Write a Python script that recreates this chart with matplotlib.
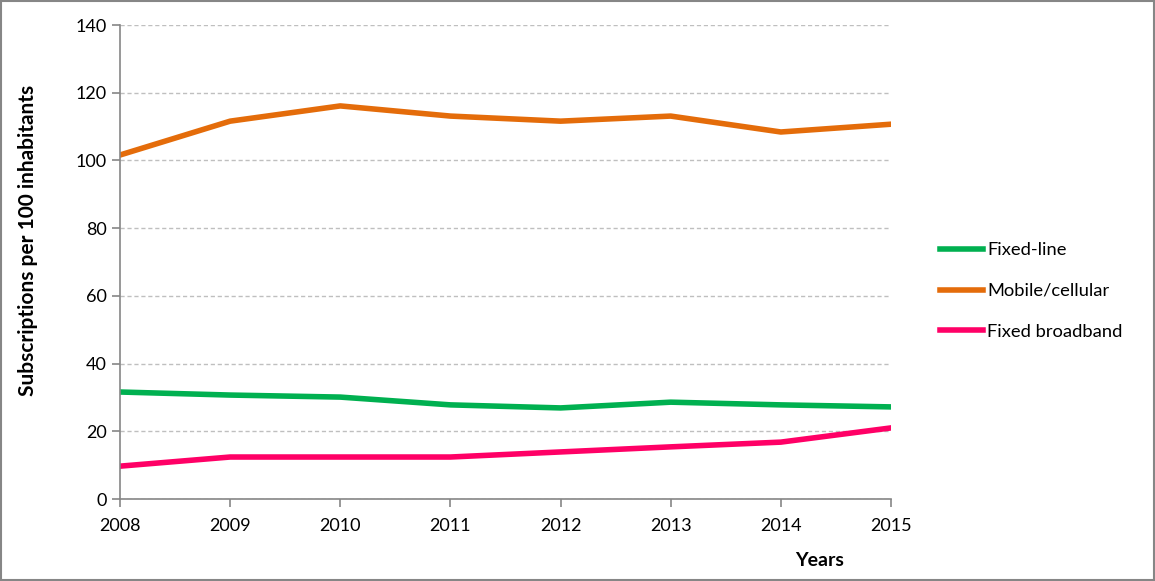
import matplotlib.pyplot as plt
import matplotlib.patches as patches

years = [2008, 2009, 2010, 2011, 2012, 2013, 2014, 2015]
fixed_line = [31.6, 30.7, 30.1, 27.8, 26.9, 28.6, 27.8, 27.2]
mobile = [101.6, 111.6, 116.1, 113.1, 111.6, 113.1, 108.4, 110.7]
broadband = [9.7, 12.4, 12.4, 12.4, 13.9, 15.4, 16.8, 21.0]

plt.rcParams['font.family'] = ['Lato', 'DejaVu Sans']

fig = plt.figure(figsize=(11.55, 5.81), dpi=100)
W, H = 1155, 581
ax = fig.add_axes([120 / W, 1 - 499 / H, (891 - 120) / W, (499 - 25) / H])

ax.plot(years, fixed_line, color='#00B050', lw=4, label='Fixed-line', solid_joinstyle='round')
ax.plot(years, mobile, color='#E46C0A', lw=4, label='Mobile/cellular', solid_joinstyle='round')
ax.plot(years, broadband, color='#FF0066', lw=4, label='Fixed broadband', solid_joinstyle='round')

ax.set_xlim(2008, 2015)
ax.set_ylim(0, 140)
ax.set_yticks(range(0, 141, 20))
ax.set_xticks(years)
ax.yaxis.grid(True, color='#BFBFBF', linestyle=(0, (3, 2)), lw=1)
ax.set_axisbelow(True)

for s in ['top', 'right']:
    ax.spines[s].set_visible(False)
for s in ['left', 'bottom']:
    ax.spines[s].set_color('#868686')
    ax.spines[s].set_linewidth(1.2)
ax.tick_params(axis='both', colors='#868686', labelcolor='black', labelsize=13, length=6, width=1.2)
ax.tick_params(axis='x', pad=8)

ax.set_ylabel('Subscriptions per 100 inhabitants', fontsize=15, fontweight='bold')
ax.yaxis.set_label_coords((38 - 120) / 771, (499 - 240) / 474)
fig.text(820 / W, 1 - 561 / H, 'Years', fontsize=14, fontweight='bold', ha='center', va='center')

leg = ax.legend(loc='center left', bbox_to_anchor=(923 / W, 1 - 291 / H), bbox_transform=fig.transFigure,
                frameon=False, fontsize=13.2, handlelength=2.35, labelspacing=1.35, handletextpad=0.25)

fig.patches.append(patches.Rectangle((1 / W, 1 / H), 1 - 2 / W, 1 - 2 / H, transform=fig.transFigure,
                                     fill=False, edgecolor='#868686', lw=1.5))

fig.savefig('out.png', dpi=100)
